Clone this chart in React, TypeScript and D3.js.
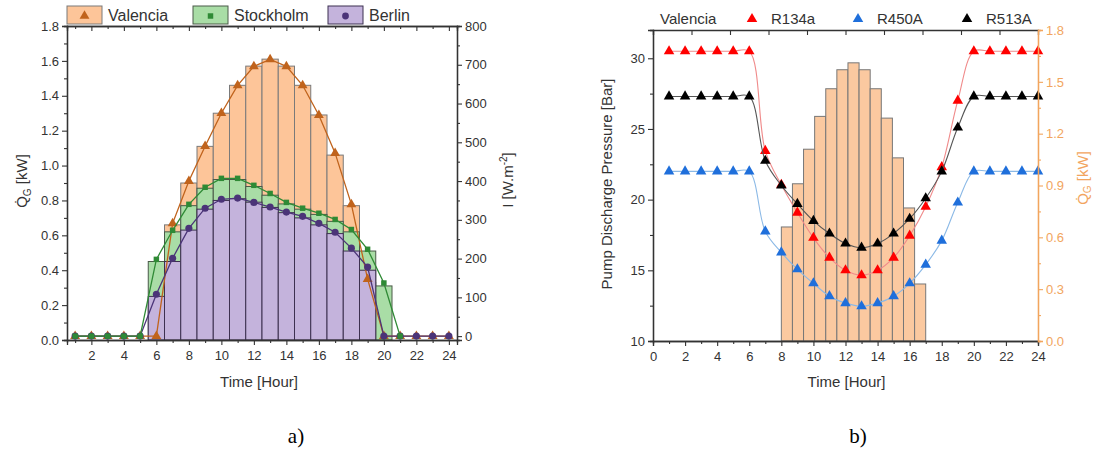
import React, { useEffect, useRef } from 'react';
import * as d3 from 'd3';

// ---- chart a) data ----
const hours = [1, 2, 3, 4, 5, 6, 7, 8, 9, 10, 11, 12, 13, 14, 15, 16, 17, 18, 19, 20, 21, 22, 23, 24];
// heat gain bars, kW
const valenciaQ = [0, 0, 0, 0, 0, 0, 0.66, 0.9, 1.11, 1.3, 1.46, 1.57, 1.61, 1.57, 1.46, 1.29, 1.06, 0.77, 0.33, 0, 0, 0, 0, 0];
const stockholmQ = [0, 0, 0, 0, 0, 0.45, 0.62, 0.77, 0.87, 0.92, 0.92, 0.88, 0.83, 0.78, 0.75, 0.72, 0.68, 0.62, 0.51, 0.31, 0, 0, 0, 0];
const berlinQ = [0, 0, 0, 0, 0, 0.25, 0.45, 0.63, 0.75, 0.8, 0.81, 0.79, 0.76, 0.73, 0.7, 0.66, 0.61, 0.51, 0.4, 0, 0, 0, 0, 0];
// irradiance lines, W/m2
const valenciaI = [0, 0, 0, 0, 0, 0, 291, 400, 490, 575, 647, 696, 714, 696, 647, 570, 472, 340, 147, 0, 0, 0, 0, 0];
const stockholmI = [0, 0, 0, 0, 0, 198, 273, 340, 384, 407, 407, 389, 368, 345, 330, 317, 301, 275, 224, 137, 0, null, null, null];
const berlinI = [0, 0, 0, 0, 0, 108, 201, 278, 330, 353, 356, 345, 333, 320, 309, 291, 268, 227, 178, 0, 0, 0, 0, 0];

// ---- chart b) data ----
const barHoursB = [7, 8, 9, 10, 11, 12, 13, 14, 15, 16, 17, 18, 19];
const valenciaQB = [0.66, 0.91, 1.11, 1.3, 1.46, 1.57, 1.61, 1.57, 1.46, 1.29, 1.06, 0.77, 0.33];
const r134a = [30.5, 30.5, 30.5, 30.5, 30.5, 30.5, 23.45, 21.05, 19.08, 17.3, 15.9, 15.0, 14.65, 15.0, 15.9, 17.45, 19.5, 22.3, 27.0, 30.5, 30.5, 30.5, 30.5, 30.5];
const r450a = [22.0, 22.0, 22.0, 22.0, 22.0, 22.0, 17.75, 16.27, 15.07, 14.08, 13.17, 12.68, 12.46, 12.68, 13.17, 14.08, 15.4, 17.1, 19.8, 22.0, 22.0, 22.0, 22.0, 22.0];
const r513a = [27.3, 27.3, 27.3, 27.3, 27.3, 27.3, 22.75, 21.0, 19.7, 18.5, 17.6, 16.9, 16.6, 16.9, 17.6, 18.65, 20.1, 22.0, 25.1, 27.3, 27.3, 27.3, 27.3, 27.3];

const FONT = '"Liberation Sans", Arial, sans-serif';
const AX = '#333';
const ORANGE_AX = '#f2a55e';

function axis(g, ax, color = AX, fontSize = 13) {
  g.call(ax);
  g.select('.domain').attr('stroke', color).attr('stroke-width', 1.3);
  g.selectAll('.tick line').attr('stroke', color).attr('stroke-width', 1.1);
  g.selectAll('.tick text').attr('fill', color).attr('font-family', FONT).attr('font-size', fontSize);
}

const App = () => {
  const ref = useRef(null);

  useEffect(() => {
    const svg = d3.select(ref.current);
    svg.selectAll('*').remove();

    // ================= chart a =================
    const L = 67, R = 457, T = 26, B = 340;
    const x = d3.scaleLinear().domain([0.5, 24.5]).range([L, R]);
    const yQ = d3.scaleLinear().domain([0, 1.8]).range([B, T]);
    const yI = d3.scaleLinear().domain([-10, 800]).range([B, T]);
    const a = svg.append('g');

    const barSets = [
      { vals: valenciaQ, fill: '#fdc599', stroke: '#7a7a7a' },
      { vals: stockholmQ, fill: '#a9dda6', stroke: '#4a5a48' },
      { vals: berlinQ, fill: '#c4b3dc', stroke: '#3d3050' },
    ];
    barSets.forEach(s => {
      a.append('g').selectAll('rect')
        .data(hours.map((h, i) => ({ h, v: s.vals[i] })).filter(d => d.v > 0))
        .join('rect')
        .attr('x', d => x(d.h - 0.5))
        .attr('width', x(1) - x(0))
        .attr('y', d => yQ(d.v))
        .attr('height', d => B - yQ(d.v))
        .attr('fill', s.fill)
        .attr('stroke', s.stroke)
        .attr('stroke-width', 1);
    });

    const lineSets = [
      { vals: valenciaI, color: '#c0631c', sym: d3.symbolTriangle, size: 42 },
      { vals: berlinI, color: '#4b3478', sym: d3.symbolCircle, size: 40 },
      { vals: stockholmI, color: '#2f8a35', sym: d3.symbolSquare, size: 30 },
    ];
    lineSets.forEach(s => {
      const pts = hours.map((h, i) => ({ h, v: s.vals[i] })).filter(d => d.v != null);
      a.append('path')
        .datum(pts)
        .attr('fill', 'none')
        .attr('stroke', s.color)
        .attr('stroke-width', 1.3)
        .attr('d', d3.line().x(d => x(d.h)).y(d => yI(d.v)));
      a.append('g').selectAll('path')
        .data(pts)
        .join('path')
        .attr('transform', d => `translate(${x(d.h)},${yI(d.v)})`)
        .attr('d', d3.symbol(s.sym, s.size))
        .attr('fill', s.color);
    });

    // axes a
    axis(a.append('g').attr('transform', `translate(0,${B})`),
      d3.axisBottom(x).tickValues([2, 4, 6, 8, 10, 12, 14, 16, 18, 20, 22, 24]).tickSize(5).tickPadding(6));
    axis(a.append('g').attr('transform', `translate(0,${B})`),
      d3.axisBottom(x).tickValues([1, 3, 5, 7, 9, 11, 13, 15, 17, 19, 21, 23]).tickSize(3).tickFormat(''));
    axis(a.append('g').attr('transform', `translate(0,${T})`),
      d3.axisTop(x).tickValues([2, 4, 6, 8, 10, 12, 14, 16, 18, 20, 22, 24]).tickSize(-5).tickFormat(''));
    axis(a.append('g').attr('transform', `translate(0,${T})`),
      d3.axisTop(x).tickValues([1, 3, 5, 7, 9, 11, 13, 15, 17, 19, 21, 23]).tickSize(-3).tickFormat(''));
    axis(a.append('g').attr('transform', `translate(${L},0)`),
      d3.axisLeft(yQ).tickValues([0, 0.2, 0.4, 0.6, 0.8, 1.0, 1.2, 1.4, 1.6, 1.8]).tickSize(5).tickFormat(d3.format('.1f')));
    axis(a.append('g').attr('transform', `translate(${L},0)`),
      d3.axisLeft(yQ).tickValues([0.1, 0.3, 0.5, 0.7, 0.9, 1.1, 1.3, 1.5, 1.7]).tickSize(3).tickFormat(''));
    axis(a.append('g').attr('transform', `translate(${R},0)`),
      d3.axisRight(yI).tickValues([0, 100, 200, 300, 400, 500, 600, 700, 800]).tickSize(5));
    axis(a.append('g').attr('transform', `translate(${R},0)`),
      d3.axisRight(yI).tickValues([50, 150, 250, 350, 450, 550, 650, 750]).tickSize(3).tickFormat(''));

    a.append('text').attr('x', (L + R) / 2 - 3).attr('y', 387).attr('text-anchor', 'middle')
      .attr('font-family', FONT).attr('font-size', 15).attr('fill', AX).text('Time [Hour]');
    const lq = a.append('text').attr('transform', 'translate(27,181) rotate(-90)').attr('text-anchor', 'middle')
      .attr('font-family', FONT).attr('font-size', 15).attr('fill', AX);
    lq.append('tspan').text('Q\u0307');
    lq.append('tspan').attr('font-size', 10).attr('dy', 4).text('G');
    lq.append('tspan').attr('dy', -4).text(' [kW]');
    const li = a.append('text').attr('transform', 'translate(513,180) rotate(-90)').attr('text-anchor', 'middle')
      .attr('font-family', FONT).attr('font-size', 15).attr('fill', AX);
    li.append('tspan').text('I [W.m');
    li.append('tspan').attr('font-size', 10).attr('dy', -6).text('-2');
    li.append('tspan').attr('dy', 6).text(']');

    // legend a
    const legA = [
      { name: 'Valencia', x0: 67, fill: '#fdc599', stroke: '#7a7a7a', color: '#c0631c', sym: d3.symbolTriangle, size: 42 },
      { name: 'Stockholm', x0: 193, fill: '#a9dda6', stroke: '#4a5a48', color: '#2f8a35', sym: d3.symbolSquare, size: 30 },
      { name: 'Berlin', x0: 328, fill: '#c4b3dc', stroke: '#3d3050', color: '#4b3478', sym: d3.symbolCircle, size: 36 },
    ];
    legA.forEach(d => {
      const g = a.append('g');
      g.append('rect').attr('x', d.x0).attr('y', 6).attr('width', 35).attr('height', 18)
        .attr('fill', d.fill).attr('stroke', d.stroke);
      g.append('path').attr('transform', `translate(${d.x0 + 17.5},16)`)
        .attr('d', d3.symbol(d.sym, d.size)).attr('fill', d.color);
      g.append('text').attr('x', d.x0 + 41).attr('y', 21).attr('font-family', FONT)
        .attr('font-size', 16).attr('fill', AX).text(d.name);
    });

    // ================= chart b =================
    const L2 = 653, R2 = 1038, T2 = 30, B2 = 341;
    const x2 = d3.scaleLinear().domain([0, 24]).range([L2, R2]);
    const yP = d3.scaleLinear().domain([10, 32]).range([B2, T2]);
    const yQ2 = d3.scaleLinear().domain([0, 1.8]).range([B2, T2]);
    const band = d3.scaleBand().domain(barHoursB).range([x2(8), x2(17)]).padding(0);
    const topScale = d3.scaleLinear().domain([0, 50]).range([L2, R2]);
    const b = svg.append('g');

    b.append('g').selectAll('rect')
      .data(barHoursB.map((h, i) => ({ h, v: valenciaQB[i] })))
      .join('rect')
      .attr('x', d => band(d.h))
      .attr('width', band.bandwidth())
      .attr('y', d => yQ2(d.v))
      .attr('height', d => B2 - yQ2(d.v))
      .attr('fill', '#fbc9a0')
      .attr('stroke', '#777777')
      .attr('stroke-width', 1);

    const refSets = [
      { vals: r134a, line: '#f08a8a', mark: '#ff0000' },
      { vals: r513a, line: '#555555', mark: '#000000' },
      { vals: r450a, line: '#8bb9e6', mark: '#1f6fdb' },
    ];
    refSets.forEach(s => {
      const pts = hours.map((h, i) => ({ h, v: s.vals[i] }));
      b.append('path')
        .datum(pts)
        .attr('fill', 'none')
        .attr('stroke', s.line)
        .attr('stroke-width', 1.1)
        .attr('d', d3.line().x(d => x2(d.h)).y(d => yP(d.v)).curve(d3.curveCatmullRom));
      b.append('g').selectAll('path')
        .data(pts)
        .join('path')
        .attr('transform', d => `translate(${x2(d.h)},${yP(d.v)})`)
        .attr('d', d3.symbol(d3.symbolTriangle, 48))
        .attr('fill', s.mark);
    });

    axis(b.append('g').attr('transform', `translate(0,${B2})`),
      d3.axisBottom(x2).tickValues([0, 2, 4, 6, 8, 10, 12, 14, 16, 18, 20, 22, 24]).tickSize(5).tickPadding(6));
    axis(b.append('g').attr('transform', `translate(0,${B2})`),
      d3.axisBottom(x2).tickValues([1, 3, 5, 7, 9, 11, 13, 15, 17, 19, 21, 23]).tickSize(3).tickFormat(''));
    axis(b.append('g').attr('transform', `translate(0,${T2})`),
      d3.axisTop(topScale).tickValues([0, 5, 10, 15, 20, 25, 30, 35, 40, 45]).tickSize(-5).tickFormat(''));
    axis(b.append('g').attr('transform', `translate(${L2},0)`),
      d3.axisLeft(yP).tickValues([10, 15, 20, 25, 30]).tickSize(5));
    axis(b.append('g').attr('transform', `translate(${L2},0)`),
      d3.axisLeft(yP).tickValues([12.5, 17.5, 22.5, 27.5]).tickSize(3).tickFormat(''));
    axis(b.append('g').attr('transform', `translate(${R2},0)`),
      d3.axisRight(yQ2).tickValues([0, 0.3, 0.6, 0.9, 1.2, 1.5, 1.8]).tickSize(5).tickFormat(d3.format('.1f')), ORANGE_AX);
    axis(b.append('g').attr('transform', `translate(${R2},0)`),
      d3.axisRight(yQ2).tickValues([0.15, 0.45, 0.75, 1.05, 1.35, 1.65]).tickSize(3).tickFormat(''), ORANGE_AX);

    b.append('text').attr('x', (L2 + R2) / 2 + 1).attr('y', 387).attr('text-anchor', 'middle')
      .attr('font-family', FONT).attr('font-size', 15).attr('fill', AX).text('Time [Hour]');
    b.append('text').attr('transform', 'translate(612,184) rotate(-90)').attr('text-anchor', 'middle')
      .attr('font-family', FONT).attr('font-size', 15).attr('fill', AX).text('Pump Discharge Pressure [Bar]');
    const lq2 = b.append('text').attr('transform', 'translate(1088,178) rotate(-90)').attr('text-anchor', 'middle')
      .attr('font-family', FONT).attr('font-size', 15).attr('fill', ORANGE_AX);
    lq2.append('tspan').text('Q\u0307');
    lq2.append('tspan').attr('font-size', 10).attr('dy', 3).text('G');
    lq2.append('tspan').attr('dy', -3).text(' [kW]');

    // legend b
    b.append('text').attr('x', 660).attr('y', 24).attr('font-family', FONT).attr('font-size', 15)
      .attr('fill', AX).text('Valencia');
    const legB = [
      { name: 'R134a', x0: 752, mark: '#ff0000' },
      { name: 'R450A', x0: 858, mark: '#1f6fdb' },
      { name: 'R513A', x0: 967, mark: '#000000' },
    ];
    legB.forEach(d => {
      b.append('path').attr('transform', `translate(${d.x0},19)`)
        .attr('d', d3.symbol(d3.symbolTriangle, 48)).attr('fill', d.mark);
      b.append('text').attr('x', d.x0 + 19).attr('y', 24).attr('font-family', FONT).attr('font-size', 15)
        .attr('fill', AX).text(d.name);
    });

    // panel captions
    svg.append('text').attr('x', 296).attr('y', 443).attr('text-anchor', 'middle')
      .attr('font-family', '"Liberation Serif", "Times New Roman", serif').attr('font-size', 21).attr('fill', '#000').text('a)');
    svg.append('text').attr('x', 858).attr('y', 443).attr('text-anchor', 'middle')
      .attr('font-family', '"Liberation Serif", "Times New Roman", serif').attr('font-size', 21).attr('fill', '#000').text('b)');
  }, []);

  return (
    <svg ref={ref} width={1096} height={457}
      style={{ position: 'absolute', left: 0, top: 0, background: '#fff' }} />
  );
};

export default App;
